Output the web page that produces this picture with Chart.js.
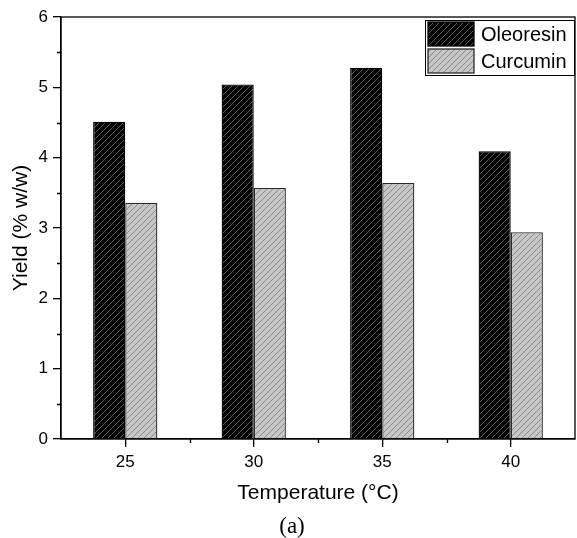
<!DOCTYPE html>
<html>
<head>
<meta charset="utf-8">
<script src="https://cdn.jsdelivr.net/npm/chart.js@4/dist/chart.umd.min.js"></script>
<style>
  html, body { margin: 0; padding: 0; background: #fff; }
  #wrap { width: 577px; height: 538px; }
</style>
</head>
<body>
<div id="wrap"><canvas id="yield" width="577" height="538"></canvas></div>
<script>
// Values (extraction yield vs temperature).
const temperatures = ["25", "30", "35", "40"];
const oleoresin = [4.51, 5.04, 5.28, 4.09];
const curcumin = [3.36, 3.57, 3.64, 2.94];
const yTicks = [0, 1, 2, 3, 4, 5, 6];

const FONT = '"Liberation Sans", Arial, sans-serif';

// Diagonal hatch fill, like the origin-style "///" bars.
function hatch(bg, line) {
  const c = document.createElement("canvas");
  c.width = 6; c.height = 6;
  const g = c.getContext("2d");
  g.fillStyle = bg;
  g.fillRect(0, 0, 6, 6);
  g.strokeStyle = line;
  g.lineWidth = 1;
  g.beginPath();
  g.moveTo(0, 6); g.lineTo(6, 0);
  g.moveTo(-1, 1); g.lineTo(1, -1);
  g.moveTo(5, 7); g.lineTo(7, 5);
  g.stroke();
  return g.createPattern(c, "repeat");
}

const HATCH_DARK = hatch("#000000", "#5a5a5a");
const HATCH_LIGHT = hatch("#c6c6c6", "#8c8c8c");

// White page, closed frame and minor ticks that Chart.js does not draw itself.
const framePlugin = {
  id: "frame",
  beforeDraw(chart) {
    const { ctx } = chart;
    ctx.save();
    ctx.fillStyle = "#fff";
    ctx.fillRect(0, 0, chart.width, chart.height);
    ctx.restore();
  },
  afterDraw(chart) {
    const { ctx, chartArea: a, scales: { x, y } } = chart;
    ctx.save();
    ctx.strokeStyle = "#000";
    ctx.lineWidth = 1.3;
    ctx.strokeRect(a.left, a.top, a.right - a.left, a.bottom - a.top);
    ctx.beginPath();
    // minor y ticks at the half units
    for (let v = 0.5; v < 6; v += 1) {
      const py = Math.round(y.getPixelForValue(v)) + 0.5;
      ctx.moveTo(a.left, py); ctx.lineTo(a.left - 4, py);
    }
    // minor x ticks between categories
    for (let i = 0; i < temperatures.length - 1; i++) {
      const px = Math.round((x.getPixelForValue(i) + x.getPixelForValue(i + 1)) / 2) + 0.5;
      ctx.moveTo(px, a.bottom); ctx.lineTo(px, a.bottom + 4);
    }
    ctx.stroke();
    ctx.restore();
  }
};

// Boxed legend in the top-right corner of the plot.
const legendPlugin = {
  id: "boxLegend",
  afterDraw(chart) {
    const { ctx, chartArea: a } = chart;
    const sets = chart.data.datasets;
    const left = 425, top = a.top + 3, right = a.right, rowH = 27;
    ctx.save();
    ctx.fillStyle = "#fff";
    ctx.fillRect(left, top, right - left, rowH * sets.length + 2);
    ctx.strokeStyle = "#000";
    ctx.lineWidth = 1;
    ctx.strokeRect(left + 0.5, top + 0.5, right - left - 1, rowH * sets.length + 1);
    ctx.font = "20px " + FONT;
    ctx.textBaseline = "middle";
    sets.forEach((ds, i) => {
      const sy = top + 2 + i * rowH;
      ctx.fillStyle = ds.backgroundColor;
      ctx.fillRect(left + 3, sy, 46, rowH - 3);
      ctx.strokeStyle = ds.borderColor;
      ctx.lineWidth = 1.3;
      ctx.strokeRect(left + 3, sy, 46, rowH - 3);
      ctx.fillStyle = "#000";
      ctx.fillText(ds.label, left + 56, sy + (rowH - 3) / 2 + 1);
    });
    ctx.restore();
  }
};

new Chart(document.getElementById("yield").getContext("2d"), {
  type: "bar",
  data: {
    labels: temperatures,
    datasets: [
      { label: "Oleoresin", data: oleoresin, backgroundColor: HATCH_DARK,
        borderColor: "#000", borderWidth: 1.3 },
      { label: "Curcumin", data: curcumin, backgroundColor: HATCH_LIGHT,
        borderColor: "#2a2a2a", borderWidth: 1.3 }
    ]
  },
  options: {
    responsive: false,
    animation: false,
    devicePixelRatio: 1,
    categoryPercentage: 0.5,
    barPercentage: 1.0,
    layout: { padding: { left: 9, right: 2, top: 17, bottom: 0 } },
    plugins: {
      legend: { display: false },
      tooltip: { enabled: false },
      subtitle: {
        display: true,
        position: "bottom",
        text: "(a)",
        color: "#000",
        font: { family: '"Liberation Serif", "Times New Roman", serif', size: 23,
                weight: "normal", lineHeight: 1 },
        padding: { top: 0, bottom: 0 }
      }
    },
    scales: {
      x: {
        grid: { display: true, drawOnChartArea: false, offset: false, tickLength: 8,
                color: "#000", lineWidth: 1.3 },
        border: { display: true, color: "#000", width: 1.3 },
        ticks: { color: "#000", font: { family: FONT, size: 17 }, padding: 5 },
        title: { display: true, text: "Temperature (°C)", color: "#000",
                 font: { family: FONT, size: 21 }, padding: { top: 0, bottom: 9 } },
        afterFit(scale) { scale.height = 76; }
      },
      y: {
        min: 0,
        max: 6,
        afterBuildTicks(scale) { scale.ticks = yTicks.map(v => ({ value: v })); },
        grid: { display: true, drawOnChartArea: false, tickLength: 8,
                color: "#000", lineWidth: 1.3 },
        border: { display: true, color: "#000", width: 1.3 },
        ticks: { color: "#000", font: { family: FONT, size: 17 }, padding: 5 },
        title: { display: true, text: "Yield (% w/w)", color: "#000",
                 font: { family: FONT, size: 21 }, padding: { top: 0, bottom: 0 } },
        afterFit(scale) { scale.width = 52; }
      }
    }
  },
  plugins: [framePlugin, legendPlugin]
});
</script>
</body>
</html>
